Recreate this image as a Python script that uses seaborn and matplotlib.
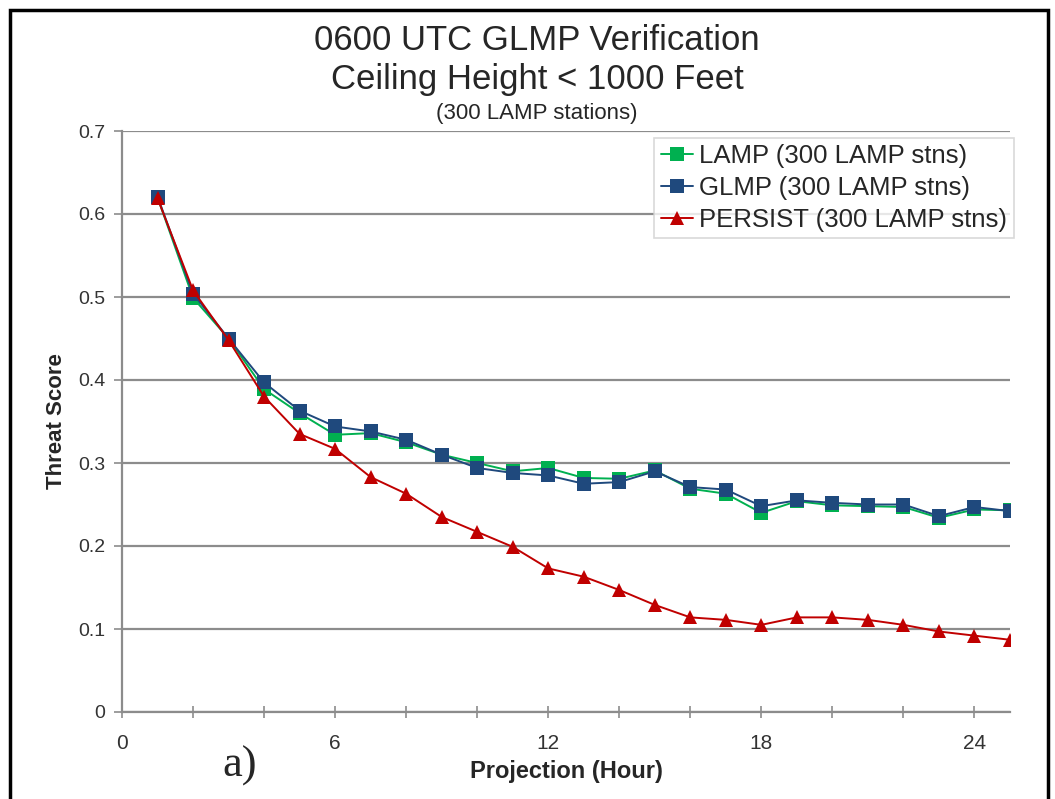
import numpy as np
import pandas as pd
import seaborn as sns
import matplotlib.pyplot as plt
from matplotlib.patches import Rectangle
from matplotlib.ticker import MultipleLocator

hours = list(range(1, 26))
lamp = [0.620, 0.499, 0.450, 0.389, 0.360, 0.334, 0.336, 0.325, 0.310, 0.300,
        0.290, 0.294, 0.282, 0.281, 0.291, 0.269, 0.263, 0.240, 0.254, 0.249,
        0.248, 0.247, 0.234, 0.244, 0.243]
glmp = [0.621, 0.504, 0.450, 0.397, 0.363, 0.344, 0.338, 0.328, 0.310, 0.294,
        0.288, 0.285, 0.275, 0.277, 0.290, 0.271, 0.268, 0.248, 0.255, 0.252,
        0.250, 0.250, 0.236, 0.247, 0.242]
persist = [0.619, 0.508, 0.448, 0.380, 0.335, 0.317, 0.283, 0.263, 0.235, 0.217,
           0.199, 0.173, 0.163, 0.147, 0.129, 0.114, 0.111, 0.105, 0.114, 0.114,
           0.111, 0.105, 0.097, 0.092, 0.087]
labels = ['LAMP (300 LAMP stns)', 'GLMP (300 LAMP stns)', 'PERSIST (300 LAMP stns)']

sns.set_theme(style='white')
plt.rcParams['font.family'] = ['Liberation Sans', 'DejaVu Sans']

fig = plt.figure(figsize=(10.55, 7.99), dpi=100)
ax = fig.add_axes([122/1055, 1-712/799, (1010-122)/1055, (712-131)/799])

styles = [('#00B050', 's'), ('#1F497D', 's'), ('#C00000', '^')]
for vals, lab, (col, mk) in zip([lamp, glmp, persist], labels, styles):
    df = pd.DataFrame({'hour': hours, 'score': vals})
    sns.lineplot(data=df, x='hour', y='score', ax=ax, color=col, marker=mk,
                 markersize=10, markeredgewidth=0, linewidth=1.4, label=lab)

ax.set_xlim(0, 25)
ax.set_ylim(0, 0.7)
ax.set_yticks(np.arange(0, 0.71, 0.1))
ax.set_yticklabels(['0', '0.1', '0.2', '0.3', '0.4', '0.5', '0.6', '0.7'])
ax.set_xticks([0, 6, 12, 18, 24])
ax.xaxis.set_minor_locator(MultipleLocator(2))
ax.yaxis.grid(True, color='#8c8c8c', linewidth=1.6)
ax.xaxis.grid(False)
ax.set_axisbelow(True)
for s in ['top', 'right']:
    ax.spines[s].set_visible(False)
for s in ['left', 'bottom']:
    ax.spines[s].set_color('#8c8c8c')
    ax.spines[s].set_linewidth(1.6)
ax.tick_params(axis='y', which='major', direction='out', length=6, width=1.2,
               color='#8c8c8c', labelsize=14, labelcolor='#333333', left=True, pad=6)
ax.tick_params(axis='x', which='both', direction='inout', length=8, width=1.2,
               color='#8c8c8c', labelsize=15, labelcolor='#333333', bottom=True, pad=12)

ax.set_xlabel('Projection (Hour)', fontsize=17, fontweight='bold', labelpad=5)
ax.set_ylabel('Threat Score', fontsize=16, fontweight='bold', labelpad=8)

leg = ax.legend(loc='upper right', bbox_to_anchor=(1.004, 0.988), fontsize=18.5,
                frameon=True, fancybox=False, handlelength=1.25, handletextpad=0.25,
                borderpad=0.25, labelspacing=0.3, borderaxespad=0.0)
leg.get_frame().set_edgecolor('#d0d0d0')
leg.get_frame().set_linewidth(1.2)

fig.text(537/1055, 1-41/799, '0600 UTC GLMP Verification', ha='center', va='center',
         fontsize=25)
fig.text(537/1055, 1-79/799, 'Ceiling Height < 1000 Feet', ha='center', va='center',
         fontsize=25)
fig.text(537/1055, 1-114/799, '(300 LAMP stations)', ha='center', va='center',
         fontsize=16)
fig.text(240/1055, 1-766/799, 'a)', ha='center', va='center', fontsize=32,
         family=['Liberation Serif', 'DejaVu Serif'])

fig.patches.append(Rectangle((10/1055, -0.1), 1038/1055, 1.1 - 10/799,
                             transform=fig.transFigure, fill=False,
                             edgecolor='black', linewidth=2.5))

fig.savefig('out.png', dpi=100)
